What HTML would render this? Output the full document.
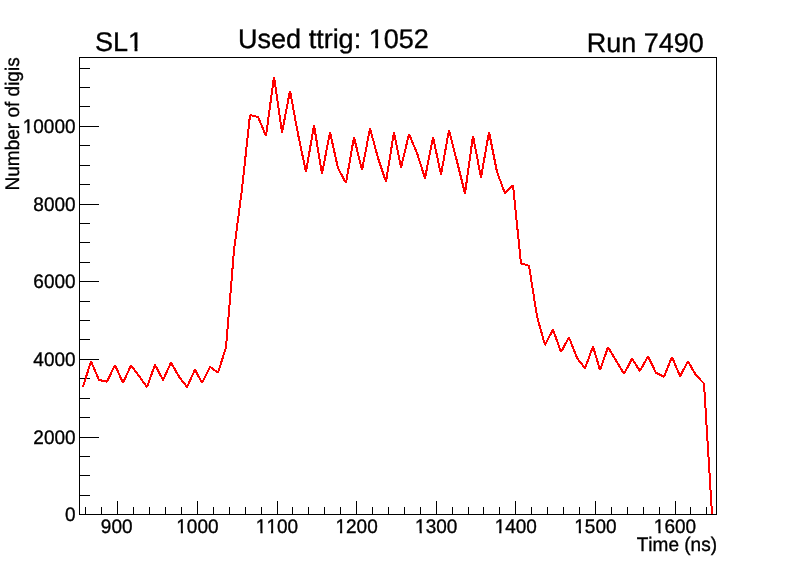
<!DOCTYPE html>
<html><head><meta charset="utf-8"><title>ttrig</title>
<style>
html,body{margin:0;padding:0;background:#fff;}
body{width:796px;height:572px;overflow:hidden;}
svg{display:block;will-change:transform;}
text{font-family:"Liberation Sans",sans-serif;fill:#000;stroke:#000;stroke-width:0.35px;font-kerning:none;font-variant-ligatures:none;text-rendering:geometricPrecision;}
</style></head><body>
<svg width="796" height="572" viewBox="0 0 796 572">
<g>
<text class="ax" transform="translate(100.85,533.40) scale(0.97,1)" font-size="19.6">900</text>
<text class="ax" transform="translate(176.26,533.40) scale(0.97,1)" font-size="19.6">1000</text>
<text class="ax" transform="translate(255.86,533.40) scale(0.97,1)" font-size="19.6">1100</text>
<text class="ax" transform="translate(335.46,533.40) scale(0.97,1)" font-size="19.6">1200</text>
<text class="ax" transform="translate(415.06,533.40) scale(0.97,1)" font-size="19.6">1300</text>
<text class="ax" transform="translate(494.66,533.40) scale(0.97,1)" font-size="19.6">1400</text>
<text class="ax" transform="translate(574.26,533.40) scale(0.97,1)" font-size="19.6">1500</text>
<text class="ax" transform="translate(653.86,533.40) scale(0.97,1)" font-size="19.6">1600</text>
<text class="ax" transform="translate(65.03,521.48) scale(0.97,1)" font-size="19.6">0</text>
<text class="ax" transform="translate(33.31,443.82) scale(0.97,1)" font-size="19.6">2000</text>
<text class="ax" transform="translate(33.31,366.16) scale(0.97,1)" font-size="19.6">4000</text>
<text class="ax" transform="translate(33.31,287.70) scale(0.97,1)" font-size="19.6">6000</text>
<text class="ax" transform="translate(33.31,210.84) scale(0.97,1)" font-size="19.6">8000</text>
<text class="ax" transform="translate(22.73,133.18) scale(0.97,1)" font-size="19.6">10000</text>
<text class="ax" transform="translate(636.73,550.80) scale(0.97,1)" font-size="19.6">Time (ns)</text>
<text class="ti" transform="translate(95.00,51.00) scale(1.0,1)" font-size="27">SL1</text>
<text class="ti" transform="translate(238.10,48.40) scale(1.0,1)" font-size="27">Used ttrig: 1052</text>
<text class="ti" transform="translate(586.70,52.00) scale(1.0,1)" font-size="27">Run 7490</text>
<text class="ax" transform="translate(18.7,57.3) rotate(-90) scale(0.97,1) translate(-137.26,0)" font-size="19.6">Number of digis</text>
</g>
<g fill="#fff" stroke="none">
<rect x="177" y="531" width="3.77" height="3"/>
<rect x="183.00" y="531" width="4.00" height="3"/>
<rect x="256" y="531" width="4.37" height="3"/>
<rect x="262.60" y="531" width="3.40" height="3"/>
<rect x="267" y="531" width="3.94" height="3"/>
<rect x="273.17" y="531" width="3.83" height="3"/>
<rect x="336" y="531" width="3.97" height="3"/>
<rect x="342.20" y="531" width="3.80" height="3"/>
<rect x="416" y="531" width="3.57" height="3"/>
<rect x="421.80" y="531" width="4.20" height="3"/>
<rect x="495" y="531" width="4.17" height="3"/>
<rect x="501.40" y="531" width="3.60" height="3"/>
<rect x="575" y="531" width="3.77" height="3"/>
<rect x="581.00" y="531" width="4.00" height="3"/>
<rect x="654" y="531" width="4.37" height="3"/>
<rect x="660.60" y="531" width="3.40" height="3"/>
<rect x="23" y="130" width="4.24" height="4"/>
<rect x="29.47" y="130" width="3.53" height="4"/>
<rect x="129" y="48" width="5.54" height="4"/>
<rect x="137.48" y="48" width="5.52" height="4"/>
<rect x="370" y="45" width="5.16" height="4"/>
<rect x="378.09" y="45" width="4.91" height="4"/>
</g>
<g stroke="#000" stroke-width="1" fill="none" shape-rendering="crispEdges">
<rect x="79.5" y="57.5" width="637.0" height="457.0"/>
<line x1="85.5" y1="514.5" x2="85.5" y2="507.0"/>
<line x1="101.5" y1="514.5" x2="101.5" y2="507.0"/>
<line x1="117.5" y1="514.5" x2="117.5" y2="501.0"/>
<line x1="133.5" y1="514.5" x2="133.5" y2="507.0"/>
<line x1="149.5" y1="514.5" x2="149.5" y2="507.0"/>
<line x1="165.5" y1="514.5" x2="165.5" y2="507.0"/>
<line x1="181.5" y1="514.5" x2="181.5" y2="507.0"/>
<line x1="197.5" y1="514.5" x2="197.5" y2="501.0"/>
<line x1="213.5" y1="514.5" x2="213.5" y2="507.0"/>
<line x1="229.5" y1="514.5" x2="229.5" y2="507.0"/>
<line x1="245.5" y1="514.5" x2="245.5" y2="507.0"/>
<line x1="261.5" y1="514.5" x2="261.5" y2="507.0"/>
<line x1="277.5" y1="514.5" x2="277.5" y2="501.0"/>
<line x1="292.5" y1="514.5" x2="292.5" y2="507.0"/>
<line x1="308.5" y1="514.5" x2="308.5" y2="507.0"/>
<line x1="324.5" y1="514.5" x2="324.5" y2="507.0"/>
<line x1="340.5" y1="514.5" x2="340.5" y2="507.0"/>
<line x1="356.5" y1="514.5" x2="356.5" y2="501.0"/>
<line x1="372.5" y1="514.5" x2="372.5" y2="507.0"/>
<line x1="388.5" y1="514.5" x2="388.5" y2="507.0"/>
<line x1="404.5" y1="514.5" x2="404.5" y2="507.0"/>
<line x1="420.5" y1="514.5" x2="420.5" y2="507.0"/>
<line x1="436.5" y1="514.5" x2="436.5" y2="501.0"/>
<line x1="452.5" y1="514.5" x2="452.5" y2="507.0"/>
<line x1="468.5" y1="514.5" x2="468.5" y2="507.0"/>
<line x1="483.5" y1="514.5" x2="483.5" y2="507.0"/>
<line x1="499.5" y1="514.5" x2="499.5" y2="507.0"/>
<line x1="515.5" y1="514.5" x2="515.5" y2="501.0"/>
<line x1="531.5" y1="514.5" x2="531.5" y2="507.0"/>
<line x1="547.5" y1="514.5" x2="547.5" y2="507.0"/>
<line x1="563.5" y1="514.5" x2="563.5" y2="507.0"/>
<line x1="579.5" y1="514.5" x2="579.5" y2="507.0"/>
<line x1="595.5" y1="514.5" x2="595.5" y2="501.0"/>
<line x1="611.5" y1="514.5" x2="611.5" y2="507.0"/>
<line x1="627.5" y1="514.5" x2="627.5" y2="507.0"/>
<line x1="643.5" y1="514.5" x2="643.5" y2="507.0"/>
<line x1="659.5" y1="514.5" x2="659.5" y2="507.0"/>
<line x1="675.5" y1="514.5" x2="675.5" y2="501.0"/>
<line x1="690.5" y1="514.5" x2="690.5" y2="507.0"/>
<line x1="706.5" y1="514.5" x2="706.5" y2="507.0"/>
<line x1="79.0" y1="514.5" x2="99.0" y2="514.5"/>
<line x1="79.0" y1="495.5" x2="90.0" y2="495.5"/>
<line x1="79.0" y1="475.5" x2="90.0" y2="475.5"/>
<line x1="79.0" y1="456.5" x2="90.0" y2="456.5"/>
<line x1="79.0" y1="437.5" x2="99.0" y2="437.5"/>
<line x1="79.0" y1="417.5" x2="90.0" y2="417.5"/>
<line x1="79.0" y1="398.5" x2="90.0" y2="398.5"/>
<line x1="79.0" y1="378.5" x2="90.0" y2="378.5"/>
<line x1="79.0" y1="359.5" x2="99.0" y2="359.5"/>
<line x1="79.0" y1="339.5" x2="90.0" y2="339.5"/>
<line x1="79.0" y1="320.5" x2="90.0" y2="320.5"/>
<line x1="79.0" y1="301.5" x2="90.0" y2="301.5"/>
<line x1="79.0" y1="281.5" x2="99.0" y2="281.5"/>
<line x1="79.0" y1="262.5" x2="90.0" y2="262.5"/>
<line x1="79.0" y1="242.5" x2="90.0" y2="242.5"/>
<line x1="79.0" y1="223.5" x2="90.0" y2="223.5"/>
<line x1="79.0" y1="204.5" x2="99.0" y2="204.5"/>
<line x1="79.0" y1="184.5" x2="90.0" y2="184.5"/>
<line x1="79.0" y1="165.5" x2="90.0" y2="165.5"/>
<line x1="79.0" y1="145.5" x2="90.0" y2="145.5"/>
<line x1="79.0" y1="126.5" x2="99.0" y2="126.5"/>
<line x1="79.0" y1="106.5" x2="90.0" y2="106.5"/>
<line x1="79.0" y1="87.5" x2="90.0" y2="87.5"/>
<line x1="79.0" y1="68.5" x2="90.0" y2="68.5"/>
</g>
<polyline fill="none" stroke="#ff0000" stroke-width="2" stroke-linejoin="bevel" shape-rendering="crispEdges" points="83.00,386.8 91.00,361.2 99.00,380.0 107.00,381.6 115.00,365.0 123.00,383.0 131.00,365.4 139.00,376.0 147.00,387.0 155.00,364.8 163.00,380.1 171.00,362.6 179.00,376.6 187.00,387.1 195.00,369.6 202.00,383.0 210.00,366.9 218.00,372.6 226.00,347.5 234.00,250.4 242.00,189.0 250.00,115.0 258.00,117.0 266.00,135.8 274.00,76.8 282.00,132.7 290.00,90.7 298.00,134.0 306.00,172.1 314.00,125.2 322.00,174.0 330.00,132.1 338.00,168.2 346.00,183.0 354.00,137.1 362.00,170.2 370.00,128.3 378.00,158.1 386.00,181.8 394.00,132.1 401.00,167.7 409.00,134.0 417.00,153.0 425.00,178.4 433.00,137.1 441.00,174.6 449.00,130.2 457.00,161.5 465.00,193.4 473.00,135.8 481.00,177.7 489.00,132.0 497.00,171.9 505.00,193.4 513.00,185.3 521.00,263.5 529.00,265.7 537.00,316.4 545.00,345.1 553.00,329.4 561.00,352.0 569.00,337.4 577.00,357.9 585.00,368.4 593.00,346.4 600.00,370.0 608.00,347.3 616.00,360.4 624.00,373.9 632.00,358.8 640.00,371.0 648.00,356.3 656.00,372.8 664.00,376.7 672.00,357.0 680.00,376.2 688.00,361.4 696.00,375.3 704.00,383.5 712.00,514.0"/>
</svg>
</body></html>
